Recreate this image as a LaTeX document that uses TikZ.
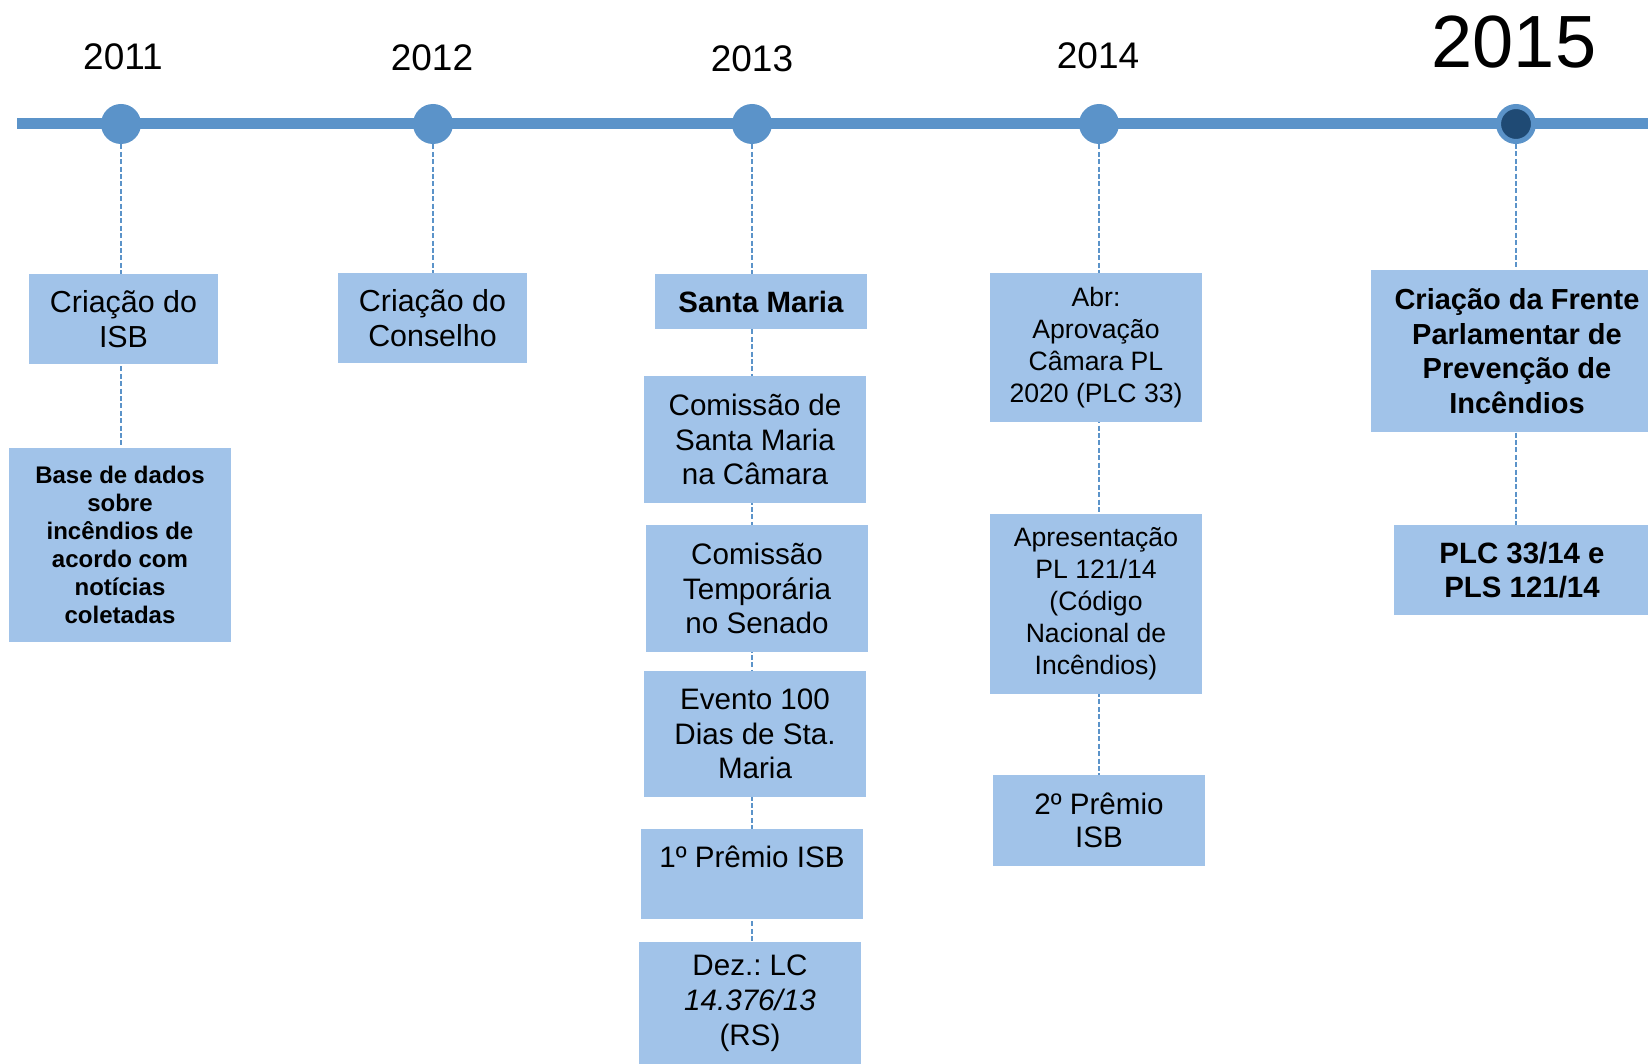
\documentclass[tikz,border=0pt]{standalone}
\usepackage{fontspec}
\setmainfont{Liberation Sans}
\frenchspacing
\usetikzlibrary{backgrounds}
\definecolor{lineblue}{RGB}{91,147,201}
\definecolor{boxblue}{RGB}{161,195,233}
\definecolor{darkblue}{RGB}{31,74,116}
\tikzset{box/.style = {fill = boxblue, inner sep = 0, align = center,
                       font = \fontsize{14.8}{17.3}\selectfont}}
\tikzset{small/.style = {font = \fontsize{13.3}{16}\selectfont}}
\tikzset{dot/.style = {fill = lineblue, circle, inner sep = 0, minimum size = 20pt}}
\tikzset{yr/.style = {font = \fontsize{18.5}{20}\selectfont}}
\tikzset{link/.style = {lineblue, line width = 0.75pt, dash pattern = on 2.5pt off 1.2pt}}

\begin{document}
\begin{tikzpicture}[x = 0.5pt, y = -0.5pt]
      \useasboundingbox (0, 0) rectangle (1648, 1064);

      % years
      \node [dot] (y11) at (121, 124) {};
      \node [dot] (y12) at (433, 124) {};
      \node [dot] (y13) at (752, 124) {};
      \node [dot] (y14) at (1099, 124) {};
      \node [circle, inner sep = 0, minimum size = 17.5pt, fill = darkblue,
             draw = lineblue, line width = 2.5pt] (y15) at (1516, 124) {};

      \node [yr] (t11) at (123, 57) {2011};
      \node [yr] (t12) at (432, 58) {2012};
      \node [yr] (t13) at (752, 59) {2013};
      \node [yr] (t14) at (1098, 56) {2014};
      \node [font = \fontsize{37}{40}\selectfont] (t15) at (1514, 42) {2015};

      % 2011
      \node [box, minimum width = 94.5pt, minimum height = 45pt,
             font = \fontsize{15.2}{17.3}\selectfont] (isb) at (123.5, 319)
            {Criação do\\ISB};
      \node [box, minimum width = 111pt, minimum height = 97pt,
             font = \fontsize{12}{14}\selectfont\bfseries] (base) at (120, 545)
            {Base de dados\\sobre\\incêndios de\\acordo com\\notícias\\coletadas};

      % 2012
      \node [box, minimum width = 94.5pt, minimum height = 45pt,
             font = \fontsize{15.2}{17.3}\selectfont] (cons) at (432.5, 318)
            {Criação do\\Conselho};

      % 2013
      \node [box, minimum width = 106pt, minimum height = 27.5pt,
             font = \fontsize{14.7}{16}\selectfont\bfseries] (stm) at (761, 301.5) {Santa Maria};
      \node [box, minimum width = 111pt, minimum height = 63.5pt] (cam) at (755, 439.5)
            {Comissão de\\Santa Maria\\na Câmara};
      \node [box, minimum width = 111pt, minimum height = 63.5pt] (sen) at (757, 588.5)
            {Comissão\\Temporária\\no Senado};
      \node [box, minimum width = 111pt, minimum height = 63pt] (evt) at (755, 734)
            {Evento 100\\Dias de Sta.\\Maria};
      \node [box, minimum width = 111pt, minimum height = 45pt] (pr1) at (752, 874)
            {1º Prêmio ISB\\~};
      \node [box, minimum width = 111pt, minimum height = 61pt,
             font = \fontsize{14.8}{17.6}\selectfont] (dez) at (750, 1003)
            {Dez.: LC\\\textit{14.376/13}\\(RS)};

      % 2014
      \node [box, small, minimum width = 106pt, minimum height = 74.5pt] (abr) at (1096, 347.5)
            {Abr:\\Aprovação\\Câmara PL\\2020 (PLC 33)};
      \node [box, small, minimum width = 106pt, minimum height = 90pt] (apr) at (1096, 604)
            {Apresentação\\PL 121/14\\(Código\\Nacional de\\Incêndios)};
      \node [box, minimum width = 106pt, minimum height = 45.5pt,
             font = \fontsize{14.8}{16.8}\selectfont] (pr2) at (1099, 820.5)
            {2º Prêmio\\ISB};

      % 2015
      \node [box, minimum width = 146pt, minimum height = 81pt,
             font = \fontsize{14.5}{17.3}\selectfont\bfseries] (fpp) at (1517, 351)
            {Criação da Frente\\Parlamentar de\\Prevenção de\\Incêndios};
      \node [box, minimum width = 128pt, minimum height = 45pt,
             font = \fontsize{14.7}{17.3}\selectfont\bfseries] (plc) at (1522, 570)
            {PLC 33/14 e\\PLS 121/14};

      \begin{pgfonlayer}{background}
        \draw [lineblue, line width = 5.5pt] (17, 124) -- (1660, 124);
        \draw [link] (y11) -- (y11 |- base.north);
        \draw [link] (y12) -- (y12 |- cons.north);
        \draw [link] (y13) -- (y13 |- dez.north);
        \draw [link] (y14) -- (y14 |- pr2.north);
        \draw [link] (y15) -- (y15 |- plc.north);
      \end{pgfonlayer}
    \end{tikzpicture}
\end{document}
